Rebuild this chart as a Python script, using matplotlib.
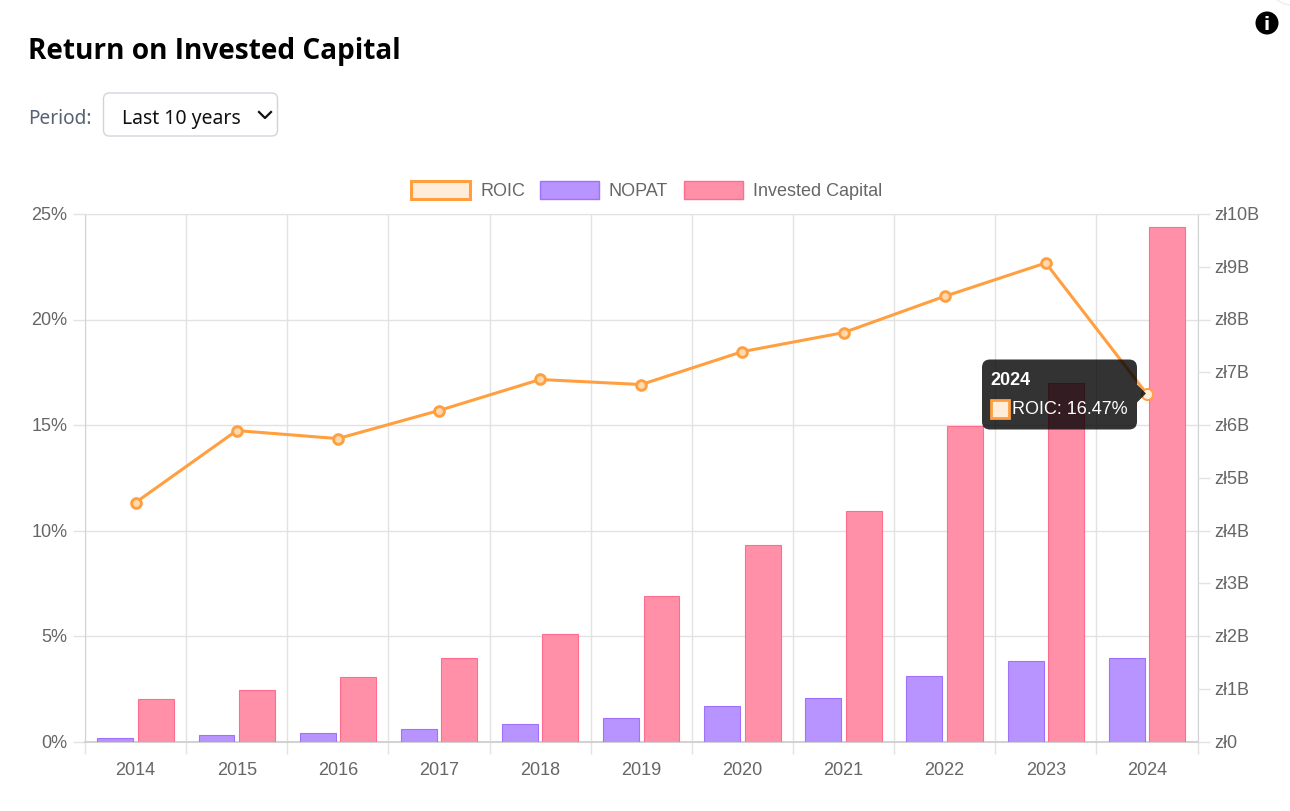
#!/usr/bin/python

import numpy as np
import matplotlib
matplotlib.use('Agg')
import matplotlib.pyplot as plt
from matplotlib.patches import FancyBboxPatch, Rectangle, Polygon, Circle
from matplotlib.transforms import ScaledTranslation

# data
years = ['2014', '2015', '2016', '2017', '2018', '2019', '2020', '2021', '2022', '2023', '2024']
roic = [11.33, 14.74, 14.36, 15.69, 17.16, 16.92, 18.48, 19.38, 21.1, 22.68, 16.47]
nopat = [0.076, 0.13, 0.17, 0.25, 0.34, 0.455, 0.68, 0.83, 1.25, 1.535, 1.59]
invested = [0.80, 0.985, 1.23, 1.59, 2.05, 2.77, 3.73, 4.38, 5.99, 6.79, 9.76]
pct_ticks = [0, 5, 10, 15, 20, 25]
pct_labels = ['0%', '5%', '10%', '15%', '20%', '25%']
pln_ticks = list(range(11))
pln_labels = ['zł0'] + ['zł%dB' % v for v in range(1, 11)]

W, H = 1290, 812
ORANGE = '#FF9F40'
ORANGE_FILL = '#FFECD9'
PURPLE = '#A070FF'
PURPLE_FILL = '#B794FF'
PINK = '#FF6C8E'
PINK_FILL = '#FF90A8'
GRID = '#E2E2E2'
BORDER = '#D2D2D2'
LABEL = '#666666'
CHART_FONT = 'Liberation Sans'
UI_FONT = 'Noto Sans'
TITLE_FONT = 'Open Sans'

fig = plt.figure(figsize=(W / 100, H / 100), dpi=100, facecolor='white')
rect = [85 / W, (H - 742.7) / H, 1112.5 / W, 527.7 / H]
x = np.arange(len(years))
label_up = ScaledTranslation(0, 1.6 / 100, fig.dpi_scale_trans)

# lowest axes: grid, left scale, category labels
ax = fig.add_axes(rect)
ax.set_xlim(-0.5, len(years) - 0.5)
ax.set_ylim(0, 25)
ax.set_xticks(np.arange(-0.5, len(years)))
ax.set_xticklabels([])
ax.set_xticks(x, years, minor=True)
ax.set_yticks(pct_ticks, pct_labels)
ax.grid(True, color=GRID, linewidth=1.0)
ax.set_axisbelow(True)
ax.tick_params(axis='both', which='major', length=8.6, width=1.0, color=GRID)
ax.tick_params(axis='x', which='minor', length=0, pad=13.6, labelsize=13, labelcolor=LABEL)
ax.tick_params(axis='y', labelsize=13, labelcolor=LABEL, pad=4)
for label in ax.get_xticklabels(minor=True) + ax.get_yticklabels():
	label.set_fontfamily(CHART_FONT)
for label in ax.get_yticklabels():
	label.set_transform(label.get_transform() + label_up)

# bars on the right scale
ax_bar = ax.twinx()
ax_bar.set_ylim(0, 10)
ax_bar.set_yticks(pln_ticks, pln_labels)
ax_bar.tick_params(axis='y', length=8.6, width=1.0, color=GRID, labelsize=13, labelcolor=LABEL, pad=3.3)
for label in ax_bar.get_yticklabels():
	label.set_fontfamily(CHART_FONT)
	label.set_transform(label.get_transform() + label_up)
ax_bar.bar(x - 0.2, nopat, 0.355, color=PURPLE_FILL, edgecolor=PURPLE, linewidth=0.8)
ax_bar.bar(x + 0.2, invested, 0.355, color=PINK_FILL, edgecolor=PINK, linewidth=0.8)

# line on top, left scale again; the last point is the hovered one
ax_line = ax.twinx()
ax_line.set_ylim(0, 25)
ax_line.set_yticks([])
ax_line.plot(x, roic, color=ORANGE, linewidth=2.2, clip_on=False)
ax_line.plot(x[:-1], roic[:-1], linestyle='none', marker='o', markersize=7,
	markerfacecolor='#FFD9B0', markeredgecolor=ORANGE, markeredgewidth=2.1, clip_on=False)
ax_line.plot(x[-1:], roic[-1:], linestyle='none', marker='o', markersize=8,
	markerfacecolor=ORANGE_FILL, markeredgecolor=ORANGE, markeredgewidth=1.4, clip_on=False)

# one set of spines is enough, stacked ones come out too dark
for a in (ax_bar, ax_line):
	a.patch.set_visible(False)
	for spine in a.spines.values():
		spine.set_visible(False)
ax.spines['top'].set_color(GRID)
for side in ('left', 'right', 'bottom'):
	ax.spines[side].set_color(BORDER)
ax.spines['bottom'].set_linewidth(1.5)

# page furniture, in pixel coordinates
ui = fig.add_axes([0, 0, 1, 1], zorder=10)
ui.set_xlim(0, W)
ui.set_ylim(H, 0)
ui.axis('off')

ui.text(28, 52, 'Return on Invested Capital', fontsize=20.2, fontweight='bold',
	family=TITLE_FONT, color='black', va='center')
ui.text(28, 119, 'Period:', fontsize=13.7, family=UI_FONT, color='#566274', va='center')
ui.add_patch(FancyBboxPatch((103.5, 94), 174, 43, boxstyle='round,pad=0,rounding_size=6',
	facecolor='white', edgecolor='#D1D5DB', linewidth=1))
ui.text(122, 119, 'Last 10 years', fontsize=14, family=UI_FONT, color='#111111', va='center')
ui.plot([259, 265, 271], [113, 119, 113], color='#111111', linewidth=1.6)

# legend
for name, x0, face, edge, lw in [('ROIC', 410.5, ORANGE_FILL, ORANGE, 2.2),
		('NOPAT', 539.5, PURPLE_FILL, PURPLE, 1), ('Invested Capital', 683.5, PINK_FILL, PINK, 1)]:
	ui.add_patch(Rectangle((x0, 182), 59.5, 17.5, facecolor=face, edgecolor=edge, linewidth=lw))
	ui.text(x0 + 69.5, 191, name, fontsize=13, family=CHART_FONT, color=LABEL, va='center')

# tooltip
ui.add_patch(FancyBboxPatch((982, 360.5), 155, 70, boxstyle='round,pad=0,rounding_size=8',
	facecolor='black', edgecolor='none', alpha=0.8))
ui.add_patch(Polygon([(1137, 385.5), (1146, 394.5), (1137, 403.5)], facecolor='black', edgecolor='none', alpha=0.8))
ui.text(990, 380.5, years[-1], fontsize=13, fontweight='bold', family=CHART_FONT, color='white', va='center')
ui.add_patch(Rectangle((991, 401), 18, 18, facecolor=ORANGE_FILL, edgecolor=ORANGE, linewidth=2))
ui.text(1012, 410, 'ROIC: %.2f%%' % roic[-1], fontsize=13, family=CHART_FONT, color='white', va='center')

# info icon and the edge of the round button above it
ui.add_patch(Circle((1292, -18), 24, facecolor='white', edgecolor='#EEEEEE', linewidth=1))
ui.add_patch(Circle((1267, 24), 11.5, facecolor='black', edgecolor='none'))
ui.text(1267, 24.5, 'i', fontsize=13, fontweight='bold', family='DejaVu Sans', color='white',
	ha='center', va='center')

plt.savefig('out.png', dpi=100)
